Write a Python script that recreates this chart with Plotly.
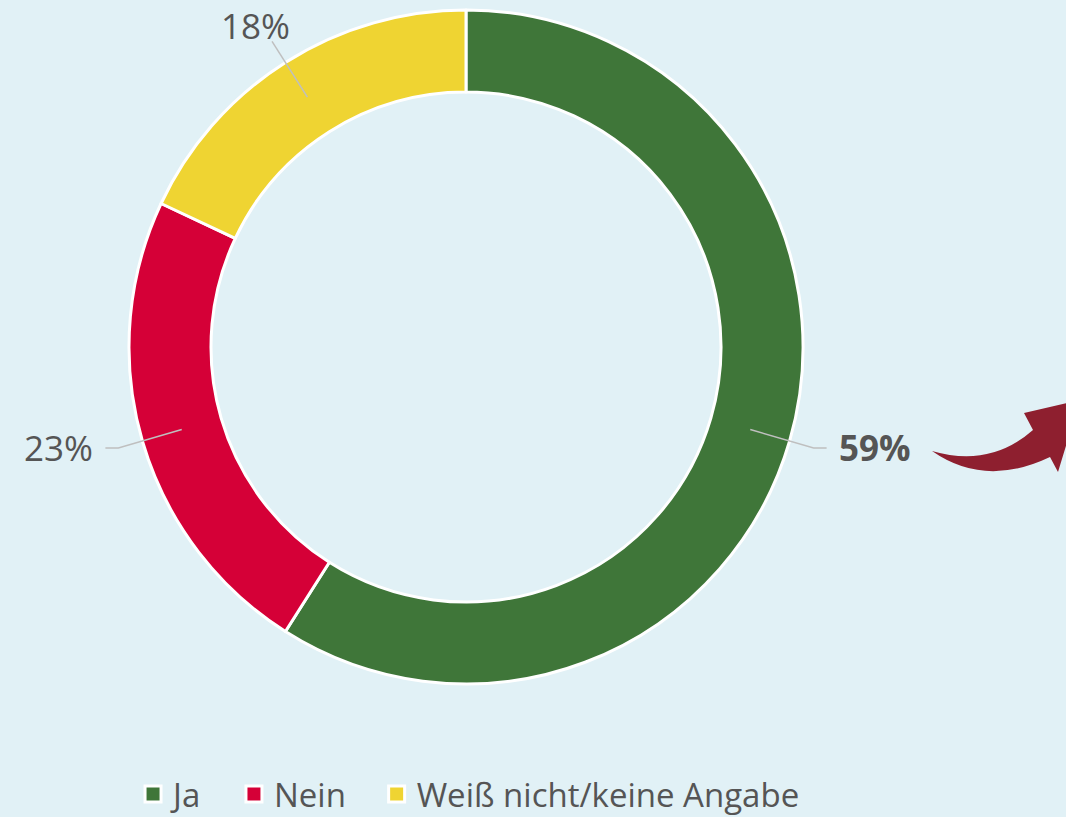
import math
import plotly.graph_objects as go

labels = ["Ja", "Nein", "Weiß nicht/keine Angabe"]
values = [59, 23, 18]
colors = ["#3F7639", "#D50037", "#EFD432"]
label_text = ["59%", "23%", "18%"]
label_bold = [True, False, False]

W, H = 1066, 817
cx, cy = 466, 347
R_out, R_in = 337, 255
r_mid = (R_out + R_in) / 2
r_elbow = 362
TXT = "#555555"
LINE = "#BFBFBF"
BG = "#E1F1F6"
PAD = "\u00a0\u00a0\u00a0"

fig = go.Figure()
fig.add_trace(go.Pie(
    labels=labels, values=values, sort=False, direction="clockwise", rotation=0,
    hole=R_in / R_out, textinfo="none", hoverinfo="label+percent",
    marker=dict(colors=colors, line=dict(color="white", width=3)),
    domain=dict(x=[(cx - R_out) / W, (cx + R_out) / W],
                y=[1 - (cy + R_out) / H, 1 - (cy - R_out) / H]),
    showlegend=False,
))
# legend entries (square markers with white outline)
for i, (lab, col) in enumerate(zip(labels, colors)):
    name = lab + (PAD if i < len(labels) - 1 else "")
    fig.add_trace(go.Scatter(x=[None], y=[None], mode="markers", name=name,
                             marker=dict(symbol="square", size=17, color=col,
                                         line=dict(color="white", width=3))))

total = sum(values)
cum = 0
shapes = []
annotations = []
for v, t, b in zip(values, label_text, label_bold):
    theta = math.radians((cum + v / 2) / total * 360)
    cum += v
    s, c = math.sin(theta), math.cos(theta)
    sx, sy = cx + r_mid * s, cy - r_mid * c
    ex, ey = cx + r_elbow * s, cy - r_elbow * c
    sgn = 1 if s > 0 else -1
    if abs(s) > 0.7:
        hx = ex + sgn * 13
        path = f"M {sx} {sy} L {ex} {ey} L {hx} {ey}"
        ax, ay = hx + sgn * 10, ey
        xanchor = "left" if sgn > 0 else "right"
        yanchor = "middle"
    else:
        path = f"M {sx} {sy} L {ex} {ey}"
        ax = ex + sgn * 17
        ay = max(0, ey - 44)
        xanchor = "center"
        yanchor = "top"
    shapes.append(dict(type="path", path=path, xref="x", yref="y",
                       line=dict(color=LINE, width=1.5)))
    annotations.append(dict(x=ax, y=ay, xref="x", yref="y", showarrow=False,
                            text=f"<b>{t}</b>" if b else t, xanchor=xanchor, yanchor=yanchor,
                            font=dict(size=35, color=TXT, family="Open Sans")))

# decorative curved arrow
shapes.append(dict(type="path", xref="x", yref="y", line=dict(width=0),
                   fillcolor="#8E1F2F",
                   path="M 932 451 Q 990 468 1033 430 L 1024 413 L 1080 400 "
                        "L 1058 472 L 1050 457 Q 985 488 932 451 Z"))

fig.update_layout(
    width=W, height=H, margin=dict(l=0, r=0, t=0, b=0, autoexpand=False),
    paper_bgcolor=BG, plot_bgcolor=BG,
    xaxis=dict(range=[0, W], visible=False, domain=[0, 1], fixedrange=True),
    yaxis=dict(range=[H, 0], visible=False, domain=[0, 1], fixedrange=True),
    shapes=shapes, annotations=annotations,
    legend=dict(orientation="h", x=0.44, xanchor="center", y=0.028, yanchor="middle",
                font=dict(size=33, color=TXT, family="Open Sans"),
                itemwidth=30, bgcolor="rgba(0,0,0,0)"),
    font=dict(family="Open Sans"),
)
fig.write_html("out.html", config={"displayModeBar": False},
               post_script="document.body.style.margin='0';document.body.style.background='" + BG + "';")
